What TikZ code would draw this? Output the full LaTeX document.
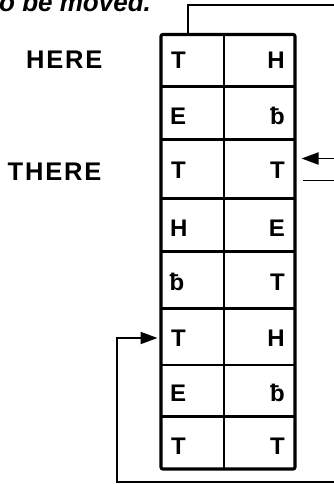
\documentclass[tikz,border=0pt]{standalone}
\usepackage{fontspec}
\setmainfont{Liberation Sans}
\usetikzlibrary{arrows.meta}
\newcommand{\lsp}{\kern1.8pt}
\begin{document}
\begin{tikzpicture}[x=1pt,y=-1pt,
  conn/.style={line width=1.9pt},
  arr/.style={conn,-{Triangle[length=17pt,width=12pt]}},
  cell/.style={font=\fontsize{24}{24}\selectfont\bfseries, inner sep=0pt},
  lbl/.style={font=\fontsize{25.5}{25.5}\selectfont\bfseries, inner sep=0pt},
  divh/.style={line width=2.8pt},
  divv/.style={line width=1.8pt},
]
\useasboundingbox (0,0) rectangle (334,484);
% partially visible caption
\node[anchor=base west, inner sep=0pt, font=\fontsize{26}{26}\selectfont\bfseries\itshape] (cap) at (-1,11.5) {o be moved.};
% the grid
\node[draw, line width=3.2pt, rounded corners=2pt, minimum width=134pt, minimum height=434.5pt, inner sep=0pt] (grid) at (228,251.75) {};
\draw[divv] (224,34.5) -- (224,469);
\foreach \yy in {86.7,139.3,198.3,251.7,308.3,365,416.7}
  \draw[divh] (161,\yy) -- (295,\yy);
% cell letters
\node[cell, anchor=base west] (l1) at (171,69) {T};
\node[cell, anchor=base east] (r1) at (285,69) {H};
\node[cell, anchor=base west] (l2) at (170,124.5) {E};
\node[cell, anchor=base east] (r2) at (285,124.5) {ƀ};
\node[cell, anchor=base west] (l3) at (171,178.5) {T};
\node[cell, anchor=base east] (r3) at (285,178.5) {T};
\node[cell, anchor=base west] (l4) at (170,236) {H};
\node[cell, anchor=base east] (r4) at (285,236) {E};
\node[cell, anchor=base west] (l5) at (169.5,290) {ƀ};
\node[cell, anchor=base east] (r5) at (285,290) {T};
\node[cell, anchor=base west] (l6) at (171,346) {T};
\node[cell, anchor=base east] (r6) at (285,346) {H};
\node[cell, anchor=base west] (l7) at (170,401) {E};
\node[cell, anchor=base east] (r7) at (285,401) {ƀ};
\node[cell, anchor=base west] (l8) at (171,454) {T};
\node[cell, anchor=base east] (r8) at (285,454) {T};
% side labels
\node[lbl, anchor=base west] (here) at (26,69) {H\lsp E\lsp R\lsp E};
\node[lbl, anchor=base west] (there) at (7.5,180) {T\lsp H\lsp E\lsp R\lsp E};
% connectors
\coordinate (topA) at (188,34.5);
\coordinate (topB) at (188,5);
\coordinate (topC) at (336,5);
\draw[conn] (topA) -- (topB) -- (topC);
\coordinate (inR) at (336,158.5);
\coordinate (tipR) at (301.5,158.5);
\draw[arr] (inR) -- (tipR);
\coordinate (lowA) at (303,180.5);
\coordinate (lowB) at (336,180.5);
\draw[conn] (lowA) -- (lowB);
\coordinate (botA) at (336,482);
\coordinate (botB) at (117,482);
\coordinate (botC) at (117,338);
\coordinate (tipL) at (157.5,338);
\draw[arr] (botA) -- (botB) -- (botC) -- (tipL);
\end{tikzpicture}
\end{document}
